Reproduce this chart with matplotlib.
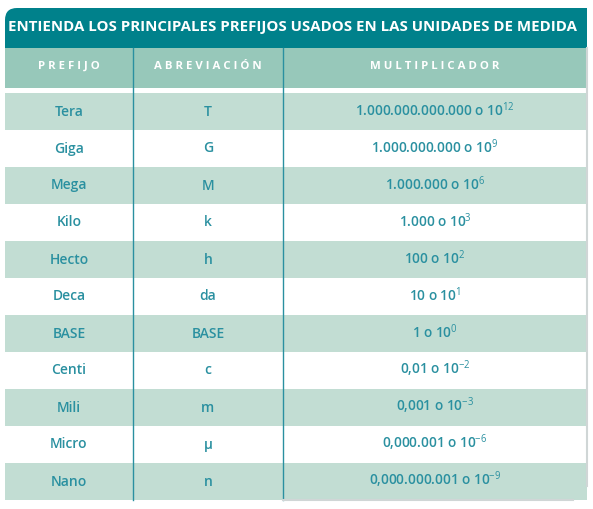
import matplotlib.pyplot as plt
from matplotlib.patches import Rectangle, FancyBboxPatch

plt.rcParams['font.family'] = ['Open Sans', 'DejaVu Sans']
plt.rcParams['mathtext.fontset'] = 'custom'
plt.rcParams['mathtext.rm'] = 'Open Sans'

title = "ENTIENDA LOS PRINCIPALES PREFIJOS USADOS EN LAS UNIDADES DE MEDIDA"
headers = ["P R E F I J O", "A B R E V I A C I Ó N", "M U L T I P L I C A D O R"]
prefixes = ["Tera", "Giga", "Mega", "Kilo", "Hecto", "Deca", "BASE", "Centi", "Mili", "Micro", "Nano"]
abbrevs = ["T", "G", "M", "k", "h", "da", "BASE", "c", "m", "μ", "n"]
values = ["1.000.000.000.000", "1.000.000.000", "1.000.000", "1.000", "100", "10", "1",
          "0,01", "0,001", "0,000.001", "0,000.000.001"]
exponents = ["12", "9", "6", "3", "2", "1", "0", "-2", "-3", "-6", "-9"]

W, H = 593, 509
fig = plt.figure(figsize=(W / 100, H / 100), dpi=100)
ax = fig.add_axes([0, 0, 1, 1])
ax.set_xlim(0, W)
ax.set_ylim(H, 0)
ax.axis('off')

teal = '#00818B'
head_c = '#97C8BA'
row_c = '#C2DDD3'
txt_c = '#2A90A0'
x0, x1 = 5, 587
cols = [x0, 133, 283, x1]
centers = [(cols[i] + cols[i + 1]) / 2 for i in range(3)]

# title band
ax.add_patch(FancyBboxPatch((x0 + 12, 8 + 12), x1 - x0 - 24, 10,
                            boxstyle='round,pad=12', fc=teal, ec='none'))
ax.add_patch(Rectangle((x0, 30), x1 - x0, 18, fc=teal, ec='none'))
ax.add_patch(Rectangle((x1 - 14, 8), 14, 22, fc=teal, ec='none'))
ax.text(x0 + 3, 27, title, color='white', fontsize=10.8, fontweight='bold',
        va='center', ha='left')

# header row
ax.add_patch(Rectangle((x0, 48), x1 - x0, 40, fc=head_c, ec='none'))
for c, h in zip(centers, headers):
    ax.text(c, 66, h, color='white', fontsize=8.2, fontweight='bold', ha='center', va='center')

# body rows
top, rh = 93, 37
for i, (p, a, v, e) in enumerate(zip(prefixes, abbrevs, values, exponents)):
    y = top + i * rh
    if i % 2 == 0:
        ax.add_patch(Rectangle((x0, y), x1 - x0, rh, fc=row_c, ec='none'))
    yc = y + rh / 2
    ax.text(centers[0], yc, p, color=txt_c, fontsize=10, fontweight='semibold',
            ha='center', va='center')
    ax.text(centers[1], yc, a, color=txt_c, fontsize=10, fontweight='semibold',
            ha='center', va='center')
    ax.text(centers[2], yc - 2, f"{v} o 10$^{{{e}}}$", color=txt_c, fontsize=9.8,
            fontweight='semibold', ha='center', va='center')

bottom = top + len(prefixes) * rh
for cx in cols[1:3]:
    ax.plot([cx, cx], [48, bottom], color=txt_c, lw=1)
# right/bottom frame
ax.plot([x1, x1], [48, bottom - 14], color='#D0D6D6', lw=1.5)
ax.plot([cols[2], x1 - 14], [bottom, bottom], color='#D0D6D6', lw=1.5)

fig.savefig('out.png', dpi=100, facecolor='white')
